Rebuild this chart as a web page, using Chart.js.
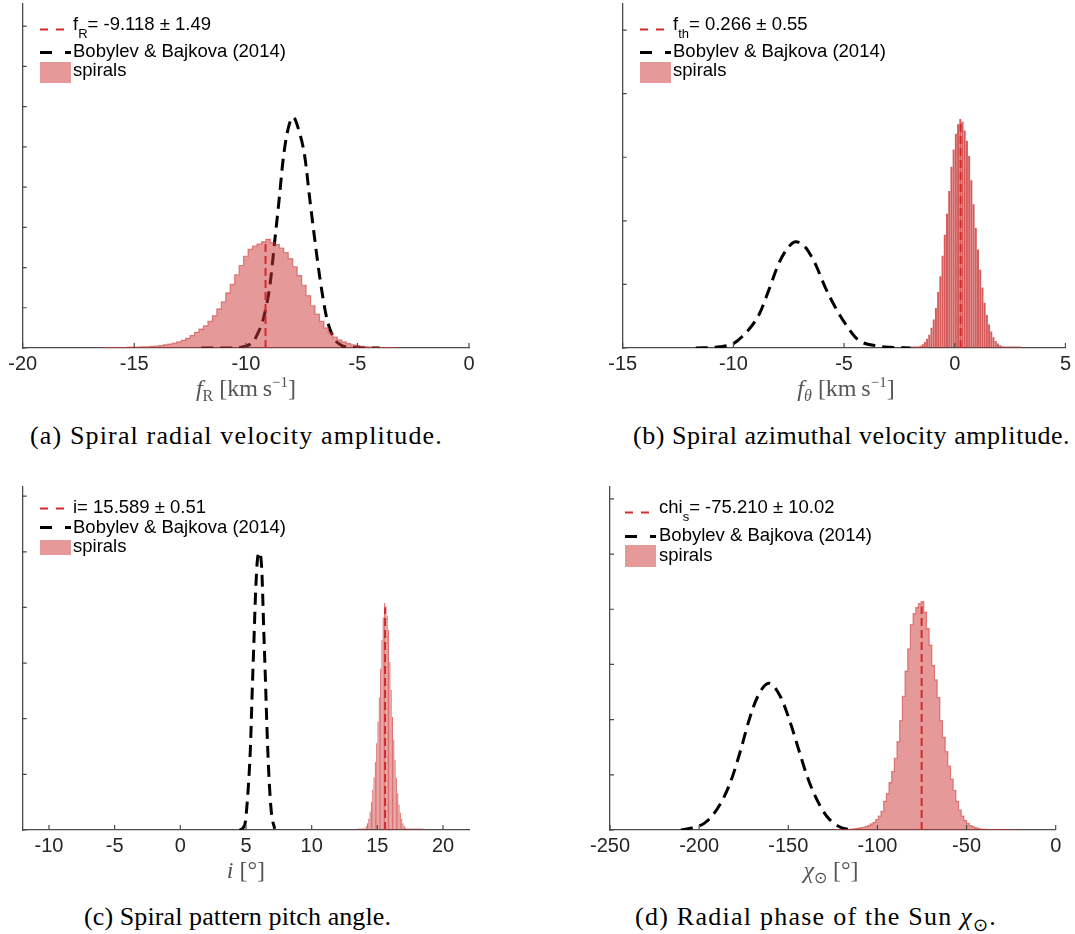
<!DOCTYPE html>
<html>
<head>
<meta charset="utf-8">
<script src="https://cdn.jsdelivr.net/npm/chart.js@4.4.0/dist/chart.umd.min.js"></script>
<style>
  body { margin: 0; background: #fff; width: 1075px; height: 934px; position: relative; overflow: hidden; }
  canvas { position: absolute; }
  .leg { position: absolute; font: 18.5px "Liberation Sans", Arial, sans-serif; line-height: 18.5px; white-space: nowrap; color: #000; }
  .leg .sub { position: relative; top: 8px; font-size: 13px; }
  .sw { position: absolute; }
  .patch { position: absolute; background: rgba(204, 51, 51, 0.5); }
  .xlab { position: absolute; width: 300px; text-align: center; font: 24px "Liberation Serif", serif; line-height: 24px; color: #555; white-space: nowrap; }
  .xlab .lo { position: relative; top: 5px; font-size: 16px; }
  .xlab .hi { position: relative; top: -9px; font-size: 15px; }
  .cap { position: absolute; font: 26px "Liberation Serif", serif; line-height: 26px; white-space: nowrap; color: #000; }
  .cap .lo { position: relative; top: 6px; font-size: 18px; }
</style>
</head>
<body>
<canvas id="ca" width="490" height="380" style="left:0;top:0"></canvas>
<canvas id="cb" width="475" height="380" style="left:600px;top:0"></canvas>
<canvas id="cc" width="490" height="380" style="left:0;top:482px"></canvas>
<canvas id="cd" width="489" height="380" style="left:586px;top:482px"></canvas>

<!-- legends -->
<svg class="sw" style="left:40px;top:28px" width="24" height="3"><line x1="0" y1="1.5" x2="24" y2="1.5" stroke="#d42a2a" stroke-width="2" stroke-dasharray="8 8"/></svg>
<div class="leg" style="left:73px;top:15.3px">f<span class="sub">R</span>= -9.118 ± 1.49</div>
<svg class="sw" style="left:40px;top:50.5px" width="31" height="3"><line x1="0" y1="1.5" x2="31" y2="1.5" stroke="#000" stroke-width="3" stroke-dasharray="12 13"/></svg>
<div class="leg" style="left:73px;top:42.3px">Bobylev &amp; Bajkova (2014)</div>
<div class="patch" style="left:40px;top:62px;width:31px;height:21px"></div>
<div class="leg" style="left:73px;top:61.3px">spirals</div>

<svg class="sw" style="left:640px;top:28px" width="24" height="3"><line x1="0" y1="1.5" x2="24" y2="1.5" stroke="#d42a2a" stroke-width="2" stroke-dasharray="8 8"/></svg>
<div class="leg" style="left:673px;top:15.3px">f<span class="sub">th</span>= 0.266 ± 0.55</div>
<svg class="sw" style="left:640px;top:50.5px" width="31" height="3"><line x1="0" y1="1.5" x2="31" y2="1.5" stroke="#000" stroke-width="3" stroke-dasharray="12 13"/></svg>
<div class="leg" style="left:673px;top:42.3px">Bobylev &amp; Bajkova (2014)</div>
<div class="patch" style="left:640px;top:62px;width:31px;height:21px"></div>
<div class="leg" style="left:673px;top:61.3px">spirals</div>

<svg class="sw" style="left:40px;top:507px" width="24" height="3"><line x1="0" y1="1.5" x2="24" y2="1.5" stroke="#d42a2a" stroke-width="2" stroke-dasharray="8 8"/></svg>
<div class="leg" style="left:73px;top:497.6px">i= 15.589 ± 0.51</div>
<svg class="sw" style="left:40px;top:526px" width="31" height="3"><line x1="0" y1="1.5" x2="31" y2="1.5" stroke="#000" stroke-width="3" stroke-dasharray="12 13"/></svg>
<div class="leg" style="left:73px;top:518.3px">Bobylev &amp; Bajkova (2014)</div>
<div class="patch" style="left:40px;top:540px;width:31px;height:15px"></div>
<div class="leg" style="left:73px;top:537px">spirals</div>

<svg class="sw" style="left:625px;top:510.5px" width="24" height="3"><line x1="0" y1="1.5" x2="24" y2="1.5" stroke="#d42a2a" stroke-width="2" stroke-dasharray="8 8"/></svg>
<div class="leg" style="left:659px;top:498.3px">chi<span class="sub">s</span>= -75.210 ± 10.02</div>
<svg class="sw" style="left:625px;top:534.5px" width="31" height="3"><line x1="0" y1="1.5" x2="31" y2="1.5" stroke="#000" stroke-width="3" stroke-dasharray="12 13"/></svg>
<div class="leg" style="left:659px;top:526px">Bobylev &amp; Bajkova (2014)</div>
<div class="patch" style="left:625px;top:545px;width:31px;height:21.7px"></div>
<div class="leg" style="left:659px;top:546px">spirals</div>

<!-- axis titles -->
<div class="xlab" style="left:96px;top:375.9px"><i>f</i><span class="lo">R</span> [km&#8201;s<span class="hi">−1</span>]</div>
<div class="xlab" style="left:696px;top:375.9px"><i>f</i><span class="lo"><i>θ</i></span> [km&#8201;s<span class="hi">−1</span>]</div>
<div class="xlab" style="left:96px;top:857.9px"><i>i</i> [°]</div>
<div class="xlab" style="left:681px;top:857.9px"><i>χ</i><span class="lo">⊙</span> [°]</div>

<!-- captions -->
<div class="cap" style="left:30px;top:423.2px;letter-spacing:1.15px">(a) Spiral radial velocity amplitude.</div>
<div class="cap" style="left:633px;top:423.2px;letter-spacing:0.55px">(b) Spiral azimuthal velocity amplitude.</div>
<div class="cap" style="left:84px;top:904.2px;letter-spacing:0.1px">(c) Spiral pattern pitch angle.</div>
<div class="cap" style="left:635px;top:904.2px;letter-spacing:1.25px">(d) Radial phase of the Sun <i>χ</i><span class="lo">⊙</span>.</div>

<script>
// ---- (a) f_R ----
const fRBinStart = -16.5, fRBinWidth = 0.2;
const fRCounts = [0.01, 0.01, 0.01, 0.01, 0.01, 0.01, 0.02, 0.02, 0.02, 0.03,
  0.03, 0.04, 0.05, 0.06, 0.08, 0.10, 0.12, 0.15, 0.19, 0.24,
  0.31, 0.39, 0.47, 0.55, 0.66, 0.80, 0.97, 1.15, 1.37, 1.58,
  1.82, 2.05, 2.28, 2.45, 2.53, 2.58, 2.64, 2.70, 2.62, 2.57,
  2.48, 2.37, 2.22, 2.02, 1.80, 1.56, 1.30, 1.05, 0.84, 0.66,
  0.50, 0.37, 0.27, 0.20, 0.15, 0.11, 0.08, 0.06, 0.04, 0.03,
  0.02, 0.02, 0.01, 0.01, 0.01, 0.01, 0.01];
const fRRefX = [-12, -11, -10.2, -9.67, -9.45, -9.23, -8.93, -8.7, -8.51, -8.33, -8.15, -7.88,
  -7.63, -7.36, -7.13, -6.91, -6.69, -6.39, -6.09, -5.7, -5.2, -4.0];
const fRRefY = [0, 0, 0.02, 0.16, 0.38, 0.7, 1.52, 2.69, 3.68, 4.68, 5.34, 5.74,
  5.42, 4.76, 3.68, 2.69, 1.77, 0.78, 0.28, 0.06, 0.01, 0];
const fRMean = -9.118, fRMeanTop = 2.67;

// ---- (b) f_theta ----
const fThBinStart = -2.0, fThBinWidth = 0.1;
const fThCounts = [0.004, 0.007, 0.012, 0.02, 0.036, 0.06, 0.094, 0.145, 0.21, 0.32,
  0.45, 0.63, 0.88, 1.13, 1.45, 1.78, 2.11, 2.47, 2.85, 3.12,
  3.37, 3.52, 3.60, 3.56, 3.42, 3.26, 3.02, 2.64, 2.26, 1.89,
  1.55, 1.23, 0.95, 0.71, 0.52, 0.37, 0.26, 0.17, 0.11, 0.07,
  0.044, 0.027, 0.016, 0.01, 0.006, 0.004, 0.003, 0.002, 0.002, 0.001];
const fThRefX = [-11.7, -10.6, -10.0, -9.6, -8.85, -8.4, -7.95, -7.5, -7.18, -6.76, -6.31,
  -5.86, -5.41, -4.96, -4.37, -3.47, -2.9, -2.0];
const fThRefY = [0, 0.02, 0.07, 0.18, 0.52, 0.91, 1.33, 1.59, 1.67, 1.59, 1.33,
  0.96, 0.65, 0.39, 0.13, 0.03, 0.01, 0];
const fThMean = 0.266, fThMeanTop = 3.53;

// ---- (c) pitch angle i ----
const iBinStart = 13.5, iBinWidth = 0.1;
const iCounts = [0.002, 0.003, 0.004, 0.006, 0.01, 0.03, 0.07, 0.12, 0.2, 0.33,
  0.5, 0.72, 0.95, 1.22, 1.56, 1.95, 2.38, 2.9, 3.42, 3.82,
  4.08, 4.02, 3.85, 3.6, 3.02, 2.52, 2.03, 1.62, 1.26, 0.93,
  0.66, 0.46, 0.31, 0.2, 0.12, 0.07, 0.04, 0.025, 0.015, 0.01,
  0.007, 0.005, 0.004, 0.003, 0.003, 0.002, 0.002, 0.002, 0.001, 0.001];
const iRefX = [4.52, 4.9, 5.16, 5.34, 5.46, 5.59, 5.74, 5.87, 6.02, 6.2, 6.35, 6.48, 6.6, 6.76, 6.94, 7.19];
const iRefY = [0, 0.09, 0.72, 1.5, 2.4, 3.3, 4.32, 4.86, 4.99, 4.68, 3.6, 2.7, 1.8, 0.9, 0.3, 0.02];
const iMean = 15.589, iMeanTop = 4.0;

// ---- (d) solar phase chi ----
const chiBinStart = -125, chiBinWidth = 1.5;
const chiCounts = [0.004, 0.004, 0.005, 0.006, 0.007, 0.009, 0.012, 0.018, 0.025, 0.03,
  0.04, 0.05, 0.06, 0.08, 0.11, 0.14, 0.19, 0.25, 0.34, 0.52,
  0.66, 0.86, 1.06, 1.3, 1.6, 1.98, 2.42, 2.88, 3.28, 3.72,
  3.92, 4.03, 4.1, 4.14, 3.95, 3.65, 3.35, 2.98, 2.72, 2.4,
  1.98, 1.68, 1.42, 1.16, 0.92, 0.72, 0.52, 0.36, 0.25, 0.17,
  0.12, 0.08, 0.06, 0.04, 0.025, 0.018, 0.013, 0.01, 0.008, 0.007,
  0.006, 0.005, 0.005, 0.004, 0.004, 0.003, 0.003, 0.003, 0.002, 0.002];
const chiRefX = [-210.2, -202.8, -197.2, -191.6, -186, -181.3, -176.7, -172, -167.3, -160.9,
  -154.3, -148.7, -144.1, -139.4, -134.7, -128.2, -120.7, -114.2];
const chiRefY = [0, 0.05, 0.12, 0.3, 0.6, 0.97, 1.45, 1.99, 2.41, 2.66,
  2.41, 1.93, 1.45, 0.97, 0.6, 0.24, 0.05, 0];
const chiMean = -75.21, chiMeanTop = 4.05;

const pink = 'rgba(204,51,51,0.5)';

// inward tick marks, MATLAB style
const innerTicks = {
  id: 'innerTicks',
  afterDatasetsDraw(chart) {
    const { ctx, chartArea: a, scales: { x, y } } = chart;
    ctx.save();
    ctx.strokeStyle = '#4a4a4a';
    ctx.lineWidth = 1.2;
    ctx.beginPath();
    x.ticks.forEach(t => {
      const px = x.getPixelForValue(t.value);
      ctx.moveTo(px, a.bottom); ctx.lineTo(px, a.bottom - 5);
    });
    y.ticks.forEach(t => {
      const py = y.getPixelForValue(t.value);
      ctx.moveTo(a.left, py); ctx.lineTo(a.left + 4, py);
    });
    ctx.stroke();
    ctx.restore();
  }
};

function histDataset(p) {
  const pts = p.counts.map((v, i) => ({ x: p.binStart + (i + 0.5) * p.binWidth, y: v }));
  if (p.style === 'step') {
    // wide bins: one filled step outline, no seams between bins
    return { type: 'line', label: 'spirals', data: pts, stepped: 'middle', fill: 'origin',
             backgroundColor: pink, borderColor: 'rgba(204,51,51,0.55)', borderWidth: 1.2,
             pointRadius: 0, order: 2 };
  }
  return { type: 'bar', label: 'spirals', data: pts, backgroundColor: p.color, borderWidth: 0,
           barPercentage: p.barPct, categoryPercentage: 1, minBarLength: 1.5, order: 2 };
}

function makeChart(id, p) {
  const ref = p.refX.map((x, i) => ({ x: x, y: p.refY[i] }));
  new Chart(document.getElementById(id), {
    type: 'bar',
    data: {
      datasets: [
        { type: 'line', label: 'Bobylev & Bajkova (2014)', data: ref, borderColor: '#000', borderWidth: 3,
          borderDash: [12, 7], pointRadius: 0, cubicInterpolationMode: 'monotone', order: 3 },
        histDataset(p),
        { type: 'line', label: 'mean', data: [{ x: p.mean, y: 0 }, { x: p.mean, y: p.meanTop }],
          borderColor: '#d42a2a', borderWidth: 2, borderDash: [8, 4], pointRadius: 0, order: 1 }
      ]
    },
    options: {
      responsive: false,
      animation: false,
      events: [],
      layout: { padding: p.pad },
      plugins: { legend: { display: false }, tooltip: { enabled: false } },
      scales: {
        x: {
          type: 'linear', min: p.xMin, max: p.xMax, offset: false,
          afterFit: s => { s.height = 32; },
          ticks: { stepSize: p.xStep, includeBounds: false, autoSkip: false, maxRotation: 0, padding: 4,
                   color: '#262626', font: { family: 'Liberation Sans', size: 20 } },
          grid: { drawOnChartArea: false, drawTicks: false, offset: false },
          border: { color: '#4a4a4a', width: 1.3 }
        },
        y: {
          min: 0, max: p.yMax,
          afterFit: s => { s.width = 0; },
          ticks: { display: false, stepSize: 1, includeBounds: false },
          grid: { drawOnChartArea: false, drawTicks: false },
          border: { color: '#4a4a4a', width: 1.3 }
        }
      }
    },
    plugins: [innerTicks]
  });
}

makeChart('ca', { binStart: fRBinStart, binWidth: fRBinWidth, counts: fRCounts, refX: fRRefX, refY: fRRefY,
  mean: fRMean, meanTop: fRMeanTop, style: 'step',
  xMin: -20, xMax: 0, xStep: 5, yMax: 8.55, pad: { left: 22.7, top: 4, right: 21, bottom: 0 } });
makeChart('cb', { binStart: fThBinStart, binWidth: fThBinWidth, counts: fThCounts, refX: fThRefX, refY: fThRefY,
  mean: fThMean, meanTop: fThMeanTop, color: 'rgba(204,51,51,0.8)', barPct: 0.9,
  xMin: -15, xMax: 5, xStep: 5, yMax: 5.41, pad: { left: 22.7, top: 4, right: 6, bottom: 0 } });
makeChart('cc', { binStart: iBinStart, binWidth: iBinWidth, counts: iCounts, refX: iRefX, refY: iRefY,
  mean: iMean, meanTop: iMeanTop, color: 'rgba(204,51,51,0.72)', barPct: 0.75,
  xMin: -12, xMax: 22, xStep: 5, yMax: 6.17, pad: { left: 22.7, top: 4.7, right: 20.7, bottom: 0 } });
makeChart('cd', { binStart: chiBinStart, binWidth: chiBinWidth, counts: chiCounts, refX: chiRefX, refY: chiRefY,
  mean: chiMean, meanTop: chiMeanTop, style: 'step',
  xMin: -250, xMax: 0, xStep: 50, yMax: 6.22, pad: { left: 23, top: 4.7, right: 19.3, bottom: 0 } });
</script>
</body>
</html>
